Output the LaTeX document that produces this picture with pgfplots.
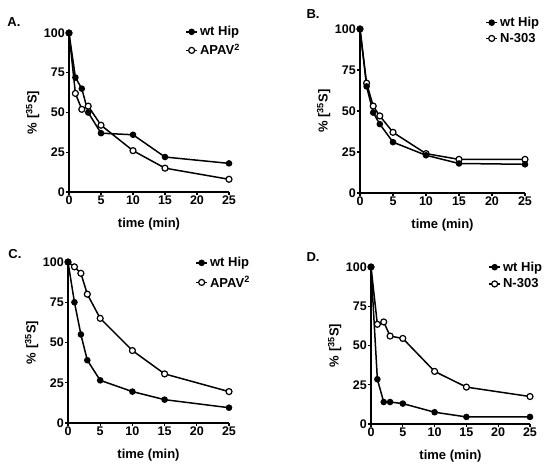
\documentclass[border=0pt]{standalone}
\usepackage{pgfplots}
\pgfplotsset{compat=1.18}
\usepackage{fontspec}
\setmainfont{Liberation Sans}
\begin{document}
\bfseries
\begin{tikzpicture}
\useasboundingbox (0pt,0pt) rectangle (547pt,467pt);
\pgfplotsset{
 panel/.style={
  scale only axis, axis lines=left, axis line style={-, line width=1.3pt},
  xmin=0,xmax=25,ymin=0,ymax=100,
  xtick={0,5,10,15,20,25}, ytick={0,25,50,75,100},
  tick align=outside, major tick length=3pt, tick style={line width=1.1pt, black},
  clip=false,
  ticklabel style={font=\fontsize{12.5}{14}\selectfont\bfseries, inner sep=1pt},
  label style={font=\fontsize{13}{15}\selectfont\bfseries},
  xlabel={time (min)}, ylabel={\% [\textsuperscript{35}S]},
  xlabel style={yshift=-8pt},
  /pgf/number format/assume math mode=true,
  legend style={draw=none, fill=none, font=\fontsize{13}{15}\selectfont\bfseries, anchor=west, inner sep=0pt},
  legend cell align=left, reverse legend,
  legend image code/.code={\draw[mark repeat=2,mark phase=2] plot coordinates {(0cm,0cm)(0.2cm,0cm)(0.4cm,0cm)};},
 },
 wt/.style={black, line width=1.5pt, mark=*, mark size=2.5pt, mark options={fill=black}},
 mut/.style={black, line width=1.5pt, mark=*, mark size=3pt, mark options={fill=white, line width=1.2pt}},
}
% Panel A
\begin{axis}[panel, at={(69pt,275pt)}, anchor=south west, width=160pt, height=159pt,
  legend style={at={(0.725,0.947)}, row sep=3pt}]
\addplot[mut] coordinates {(0,100)(1,62)(2,52)(3,54)(5,42)(10,26)(15,15)(25,8)};
\addplot[wt] coordinates {(0,100)(1,72)(2,65)(3,50)(5,37)(10,36)(15,22)(25,18)};
\legend{APAV\textsuperscript{2}, wt Hip}
\end{axis}
% Panel B
\begin{axis}[panel, at={(360pt,274pt)}, anchor=south west, width=165pt, height=164pt,
  legend style={at={(0.758,0.991)}, row sep=1pt}]
\addplot[mut] coordinates {(0,100)(1,67)(2,53)(3,47)(5,37)(10,24)(15,20.5)(25,20.5)};
\addplot[wt] coordinates {(0,100)(1,65)(2,49)(3,42)(5,31)(10,23)(15,18)(25,17.5)};
\legend{N-303, wt Hip}
\end{axis}
% Panel C
\begin{axis}[panel, at={(68pt,44pt)}, anchor=south west, width=161pt, height=161pt,
  legend style={at={(0.789,0.932)}, row sep=4pt}]
\addplot[mut] coordinates {(0,100)(1,97)(2,93)(3,80)(5,65)(10,45)(15,30.5)(25,19.5)};
\addplot[wt] coordinates {(0,100)(1,75)(2,55)(3,39)(5,26.5)(10,19.5)(15,14.5)(25,9.5)};
\legend{APAV\textsuperscript{2}, wt Hip}
\end{axis}
% Panel D
\begin{axis}[panel, at={(371pt,43pt)}, anchor=south west, width=159pt, height=157pt,
  legend style={at={(0.736,0.946)}, row sep=2pt}]
\addplot[mut] coordinates {(0,100)(1,63.5)(2,65)(3,56)(5,54.5)(10,33.5)(15,23.5)(25,17.5)};
\addplot[wt] coordinates {(0,100)(1,28.5)(2,14)(3,14)(5,13)(10,7.5)(15,4.5)(25,4.5)};
\legend{N-303, wt Hip}
\end{axis}
\node[font=\fontsize{13}{15}\selectfont\bfseries] at (14pt,444.5pt) {A.};
\node[font=\fontsize{13}{15}\selectfont\bfseries] at (313pt,453pt) {B.};
\node[font=\fontsize{13}{15}\selectfont\bfseries] at (15pt,212.5pt) {C.};
\node[font=\fontsize{13}{15}\selectfont\bfseries] at (313pt,209.5pt) {D.};
\end{tikzpicture}
\end{document}
